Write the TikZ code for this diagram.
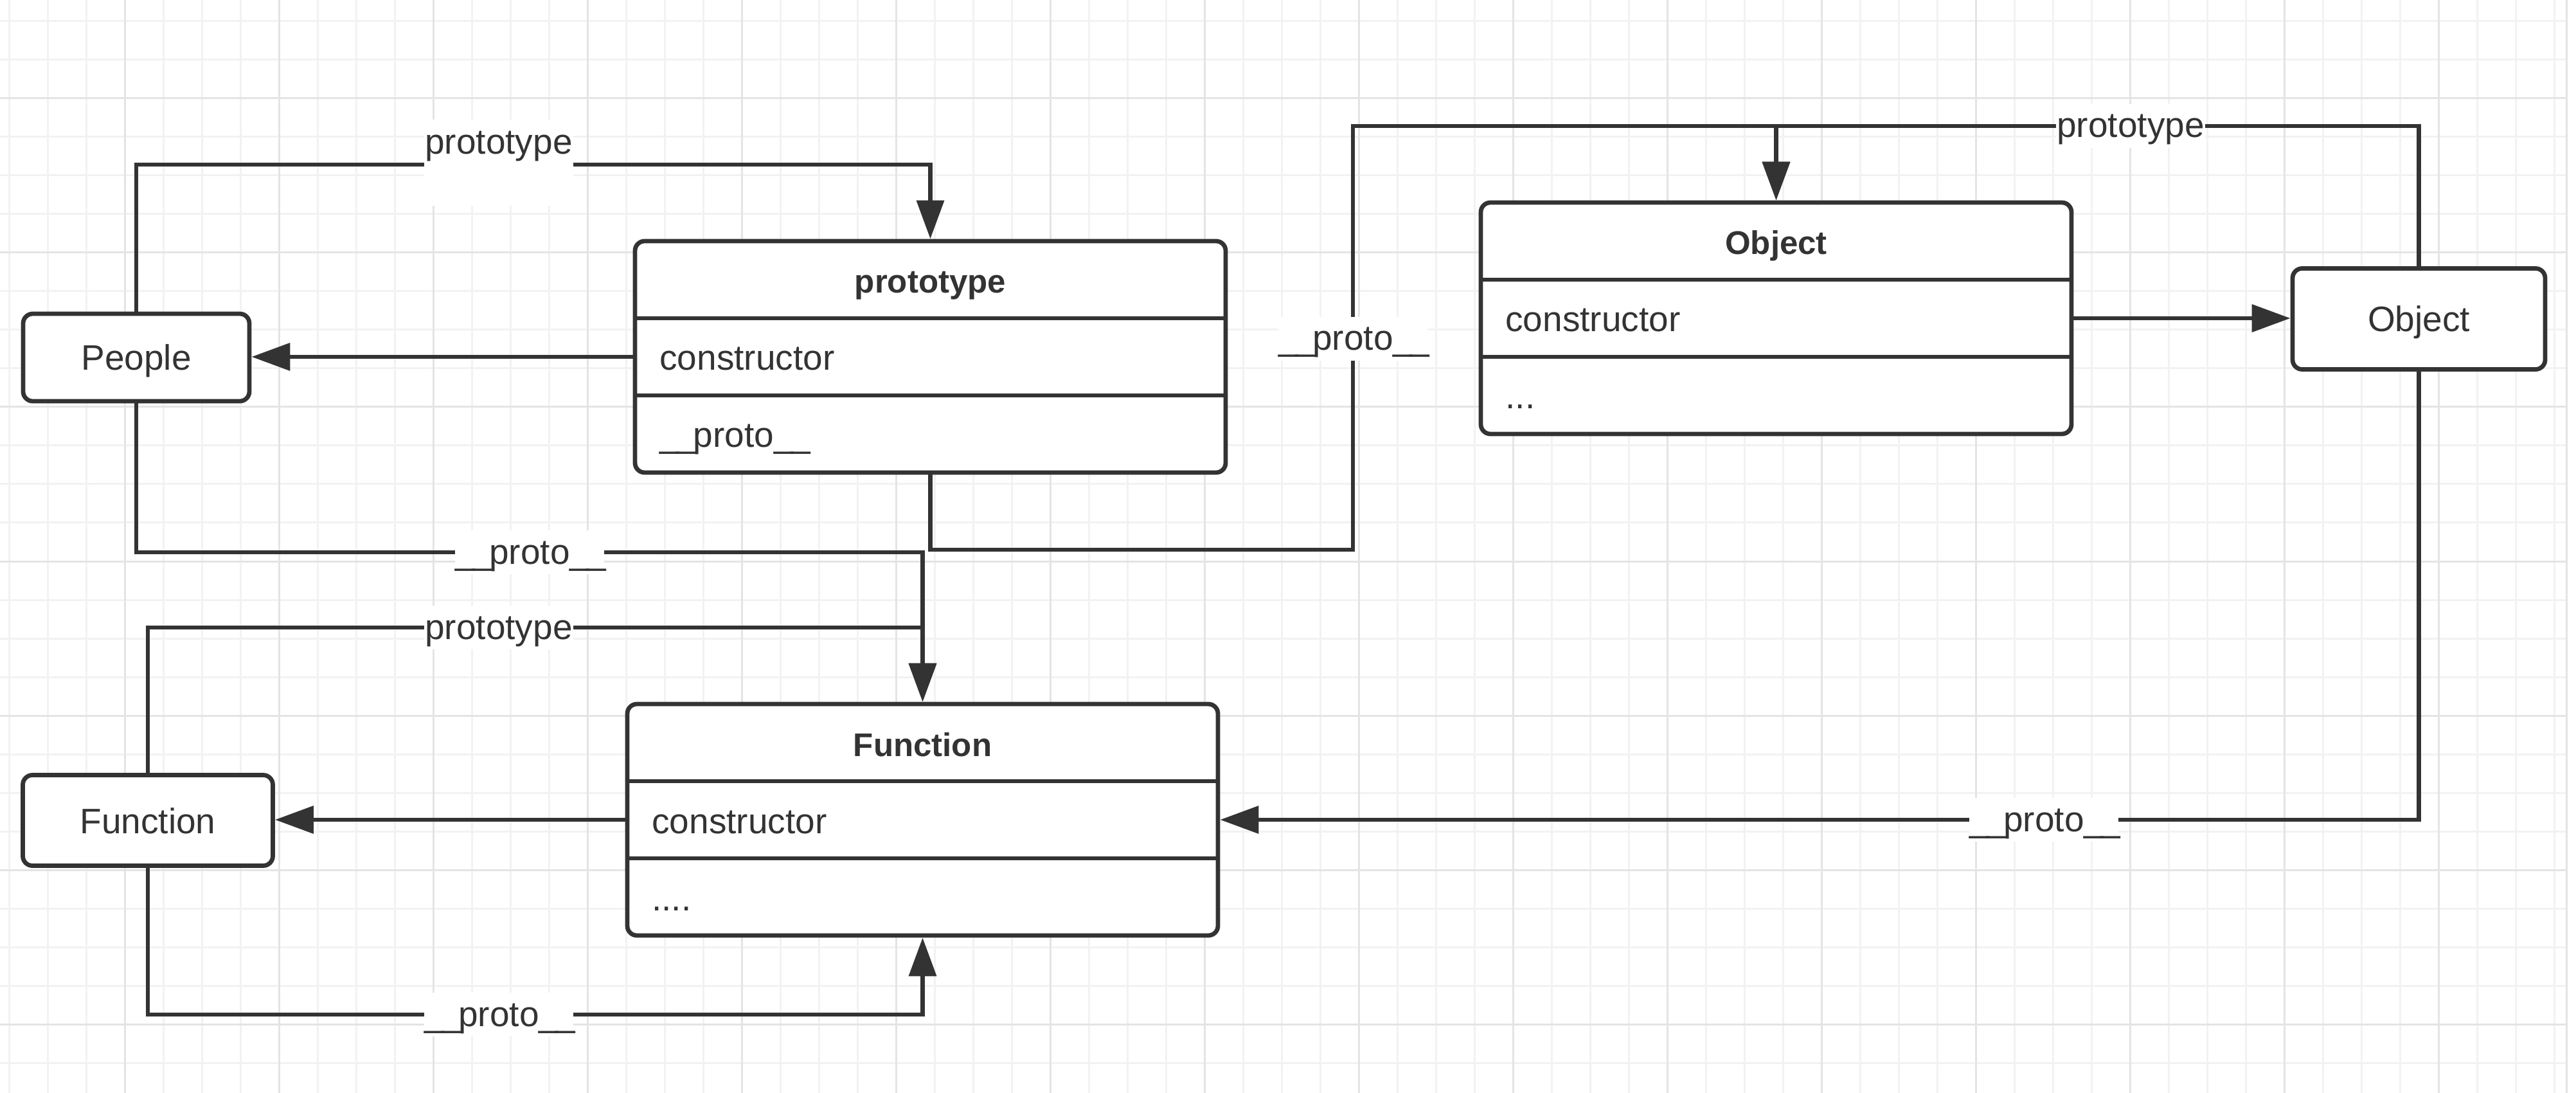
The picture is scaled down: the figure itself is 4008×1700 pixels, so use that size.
\documentclass[tikz,border=0pt]{standalone}
\usepackage{fontspec}
\setmainfont{Liberation Sans}
\usetikzlibrary{arrows.meta}
\definecolor{ink}{HTML}{333333}
\definecolor{gridminor}{HTML}{F2F2F2}
\definecolor{gridmajor}{HTML}{E4E4E4}
\newcommand\usc{\_\kern-0.08em}
\begin{document}
\begin{tikzpicture}[x=0.25pt, y=-0.25pt,
  txt/.style={font=\fontsize{13.75pt}{16pt}\selectfont, text=ink},
  ttl/.style={font=\fontsize{12.75pt}{15pt}\selectfont\bfseries, text=ink},
  smallbox/.style={draw=ink, line width=1.7pt, fill=white, rounded corners=3.75pt,
    inner sep=0pt, txt, text height=11.5pt, text depth=1.5pt},
  classbox/.style={draw=ink, line width=1.7pt, fill=white, rounded corners=3.75pt,
    minimum width=229.75pt, minimum height=90pt, inner sep=0pt},
  rowbox/.style={minimum width=229.75pt, minimum height=30pt, inner sep=0pt,
    outer xsep=0.85pt, outer ysep=0pt},
  rowtext/.style={txt, anchor=base west, inner sep=0pt, xshift=10.25pt, yshift=-5.25pt},
  titletext/.style={ttl, anchor=base, inner sep=0pt, yshift=-5.25pt},
  divider/.style={draw=ink, line width=1.7pt},
  conn/.style={draw=ink, line width=1.7pt, -{Triangle[length=15pt,width=10.5pt]}},
  lbl/.style={txt, fill=white, inner xsep=0.25pt, inner ysep=1.6pt,
    text height=11.4pt, text depth=2.4pt},
  tall lbl/.style={txt, fill=white, inner xsep=0.25pt, inner ysep=1.6pt,
    text height=11.9pt, text depth=18.4pt, anchor=base},
  gminor/.style={draw=gridminor, line width=0.75pt},
  gmajor/.style={draw=gridmajor, line width=0.75pt}
]
\useasboundingbox (0,0) rectangle (4008,1700);
\fill[white] (0,0) rectangle (4008,1700);
% grid
\begin{scope}
\clip (0,0) rectangle (3993,1700);
\foreach \k in {0,...,66} \draw[gminor] ({14+60*\k},0) -- ({14+60*\k},1700);
\foreach \k in {0,...,27} \draw[gminor] (0,{33+60*\k}) -- (3993,{33+60*\k});
\foreach \k in {0,...,15} \draw[gmajor] ({194+240*\k},0) -- ({194+240*\k},1700);
\foreach \k in {0,...,6} \draw[gmajor] (0,{153+240*\k}) -- (3993,{153+240*\k});
\end{scope}
\draw[gmajor] (3993,0) -- (3993,1700);

% small boxes
\node[smallbox, minimum width=88pt, minimum height=34pt] (people) at (212,556) {People};
\node[smallbox, minimum width=98.25pt, minimum height=39.25pt] (osm) at (3763.5,496) {Object};
\node[smallbox, minimum width=97.25pt, minimum height=35.25pt] (fsm) at (230,1276) {Function};

% prototype class
\node[classbox] (proto) at (1447.5,555) {};
\node[rowbox] (protoH) at (1447.5,435) {};
\node[rowbox] (protoC) at (1447.5,555) {};
\node[rowbox] (protoP) at (1447.5,675) {};
\draw[divider] (protoH.south west) -- (protoH.south east);
\draw[divider] (protoC.south west) -- (protoC.south east);
\node[titletext] (protoT) at (protoH.center) {prototype};
\node[rowtext] (protoCt) at (protoC.west) {constructor};
\node[rowtext] (protoPt) at (protoP.west) {\usc\usc proto\usc\usc};

% Object class
\node[classbox] (obj) at (2763.5,495) {};
\node[rowbox] (objH) at (2763.5,375) {};
\node[rowbox] (objC) at (2763.5,495) {};
\node[rowbox] (objD) at (2763.5,615) {};
\draw[divider] (objH.south west) -- (objH.south east);
\draw[divider] (objC.south west) -- (objC.south east);
\node[titletext] (objT) at (objH.center) {Object};
\node[rowtext] (objCt) at (objC.west) {constructor};
\node[rowtext] (objDt) at (objD.west) {...};

% Function class
\node[classbox] (func) at (1435.5,1275) {};
\node[rowbox] (funcH) at (1435.5,1155) {};
\node[rowbox] (funcC) at (1435.5,1275) {};
\node[rowbox] (funcD) at (1435.5,1395) {};
\draw[divider] (funcH.south west) -- (funcH.south east);
\draw[divider] (funcC.south west) -- (funcC.south east);
\node[titletext] (funcT) at (funcH.center) {Function};
\node[rowtext] (funcCt) at (funcC.west) {constructor};
\node[rowtext] (funcDt) at (funcD.west) {....};

% routing coordinates
\coordinate (yA) at (0,256);
\coordinate (yB) at (0,859);
\coordinate (yC) at (0,976);
\coordinate (yD) at (0,1578);
\coordinate (k1) at (2105,855);
\coordinate (k2) at (2105,196);

% connectors
\draw[conn] (people.north) -- (people.north |- yA) -| (proto.north);
\draw[conn] (people.south) -- (people.south |- yB) -| (func.north);
\draw[conn] (fsm.north) -- (fsm.north |- yC) -| (func.north);
\draw[conn] (proto.south) |- (k1) -- (k2) -| (obj.north);
\draw[conn] (osm.north) -- (osm.north |- k2) -| (obj.north);
\draw[conn] (osm.south) |- (funcC.east);
\draw[conn] (funcC.west) -- (funcC.west -| fsm.east);
\draw[conn] (protoC.west) -- (protoC.west -| people.east);
\draw[conn] (objC.east) -- (objC.east -| osm.west);
\draw[conn] (fsm.south) -- (fsm.south |- yD) -| (func.south);

% labels
\node[tall lbl] (l1) at (776,240) {prototype};
\node[lbl] (l2) at (824,859) {\usc\usc proto\usc\usc};
\node[lbl] (l3) at (776,976) {prototype};
\node[lbl] (l4) at (2105,527) {\usc\usc proto\usc\usc};
\node[lbl] (l5) at (3315,196) {prototype};
\node[lbl] (l6) at (3180,1275) {\usc\usc proto\usc\usc};
\node[lbl] (l7) at (776,1578) {\usc\usc proto\usc\usc};
\end{tikzpicture}
\end{document}
